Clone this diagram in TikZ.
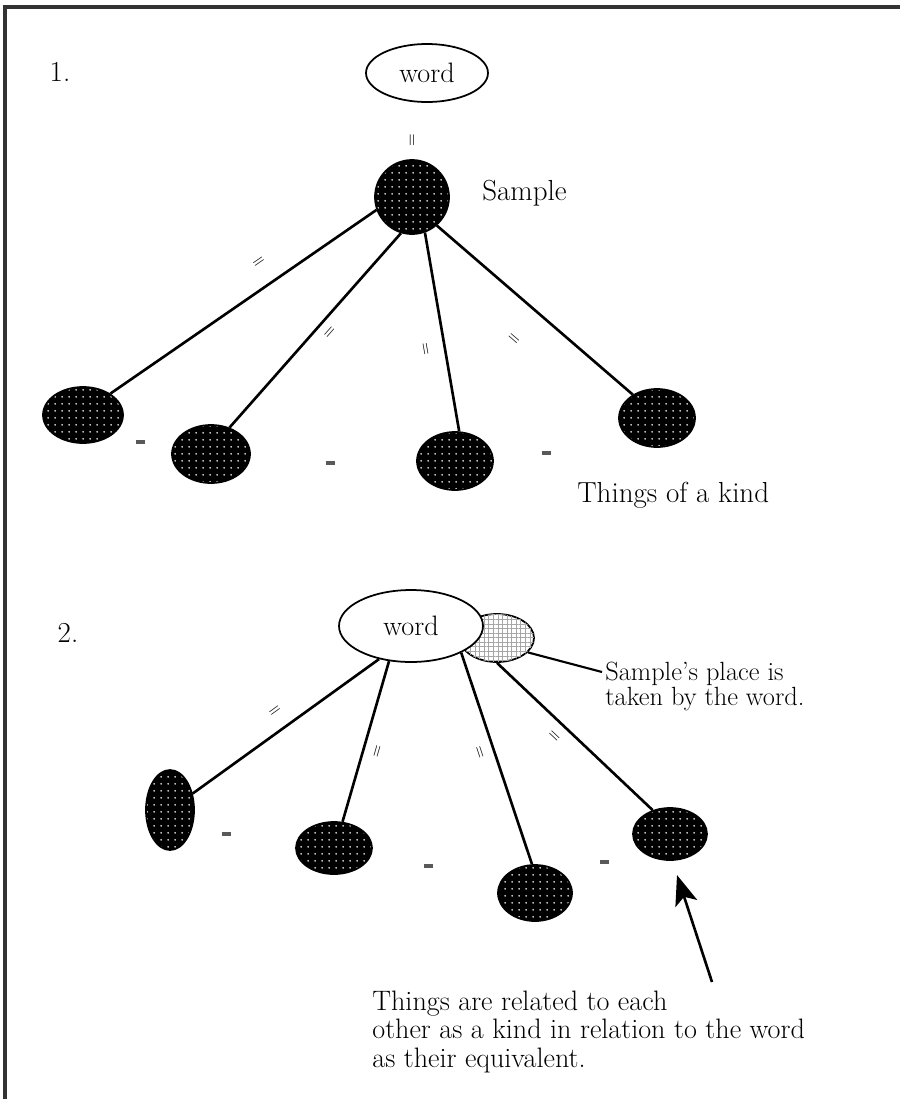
\documentclass[tikz,border=0pt]{standalone}
\usepackage{tikz}
\usetikzlibrary{shapes.geometric,patterns.meta,arrows.meta}
\tikzstyle{arrow} = [line width=1.5pt,-{Stealth[length=17pt,width=13pt,inset=4pt]}]
\tikzstyle{link} = [line width=1.5pt]
\tikzstyle{frame} = [line width=2.2pt,black!80]
\tikzstyle{word} = [draw,ellipse,fill=white,inner sep=0pt,line width=1pt,font=\fontsize{16}{17}\selectfont]
\tikzstyle{thing} = [draw,ellipse,inner sep=0pt,line width=1pt,preaction={fill=black},pattern={Dots[distance=4pt,radius=0.6pt]},pattern color=white]
\tikzstyle{place} = [draw,ellipse,inner sep=0pt,line width=1pt,fill=white,postaction={pattern={Hatch[angle=0,distance=2.6pt,line width=0.35pt]},pattern color=black!35}]
\tikzstyle{eq} = [font=\fontsize{9}{9}\selectfont,inner sep=0pt]
\tikzstyle{sepmark} = [inner sep=0pt,black!65]
\tikzstyle{txt} = [inner sep=0pt,font=\fontsize{16.5}{16}\selectfont]

\begin{document}
\begin{tikzpicture}[x=0.02cm,y=-0.02cm]
          \useasboundingbox (0,0) rectangle (900,1099);
          \draw[frame] (5,1099) -- (5,7) -- (900,7);

          \node[txt] at (60,72) (one) {1.};
          \node[word,minimum width=2.44cm,minimum height=1.16cm] at (427,73) (word1) {word};
          \node[eq,rotate=90] at (413,140) (eq0) {=};
          \node[thing,circle,minimum size=1.48cm] at (412,197) (sample) {};
          \node[txt,anchor=west] at (482,193) (samplelbl) {Sample};

          \node[thing,minimum width=1.6cm,minimum height=1.12cm] at (83,415) (a) {};
          \node[thing,minimum width=1.56cm,minimum height=1.16cm] at (211,454) (b) {};
          \node[thing,minimum width=1.52cm,minimum height=1.16cm] at (455,461) (c) {};
          \node[thing,minimum width=1.52cm,minimum height=1.16cm] at (657,418) (d) {};

          \draw[link] (sample.200) -- (a.38) node[eq,pos=0.39,sloped,above=11pt]{=};
          \draw[link] (sample.253) -- (b.55) node[eq,pos=0.47,sloped,below=5pt]{=};
          \draw[link] (sample.290) -- (c.82) node[eq,pos=0.57,sloped,below=9pt]{=};
          \draw[link] (sample.311) -- (d.136) node[eq,pos=0.51,sloped,below=18pt]{=};

          \node[sepmark] at (140,442) (m1) {\rule{0.18cm}{0.07cm}};
          \node[sepmark] at (330,463) (m2) {\rule{0.18cm}{0.07cm}};
          \node[sepmark] at (546,453) (m3) {\rule{0.18cm}{0.07cm}};
          \node[txt,anchor=west] at (577,495) (kind) {Things of a kind};

          \node[txt] at (68,633) (two) {2.};
          \node[place,minimum width=1.48cm,minimum height=0.96cm] at (497,638) (place) {};
          \node[word,minimum width=2.88cm,minimum height=1.44cm] at (411,626) (word2) {word};
          \node[txt,anchor=north west,align=left,font=\fontsize{15}{14}\selectfont] at (605,662) (note) {Sample's place is\\taken by the word.};
          \coordinate (notept) at (602,672);
          \draw[link,line width=1.2pt] (place.-25) -- (notept);

          \node[thing,minimum width=0.96cm,minimum height=1.6cm] at (170,810) (e) {};
          \node[thing,minimum width=1.52cm,minimum height=1.04cm] at (334,848) (f) {};
          \node[thing,minimum width=1.48cm,minimum height=1.12cm] at (535,893) (g) {};
          \node[thing,minimum width=1.48cm,minimum height=1.04cm] at (670,834) (h) {};

          \draw[link] (word2.226) -- (e.36) node[eq,pos=0.5,sloped,above=8pt]{=};
          \draw[link] (word2.238) -- (f.72) node[eq,pos=0.54,sloped,below=6pt]{=};
          \draw[link] (word2.332) -- (g.96) node[eq,pos=0.45,sloped,below=6pt]{=};
          \draw[link] (place.270) -- (h.126) node[eq,pos=0.43,sloped,below=6pt]{=};

          \node[sepmark] at (226,834) (m4) {\rule{0.18cm}{0.07cm}};
          \node[sepmark] at (428,866) (m5) {\rule{0.18cm}{0.07cm}};
          \node[sepmark] at (604,862) (m6) {\rule{0.18cm}{0.07cm}};

          \coordinate (tail) at (712,982);
          \draw[arrow,shorten >=0.3cm] (tail) -- (h.-85);
          \node[txt,anchor=north west,align=left,font=\fontsize{16}{16}\selectfont] at (372,991) (caption) {Things are related to each\\other as a kind in relation to the word\\as their equivalent.};
        \end{tikzpicture}
\end{document}
